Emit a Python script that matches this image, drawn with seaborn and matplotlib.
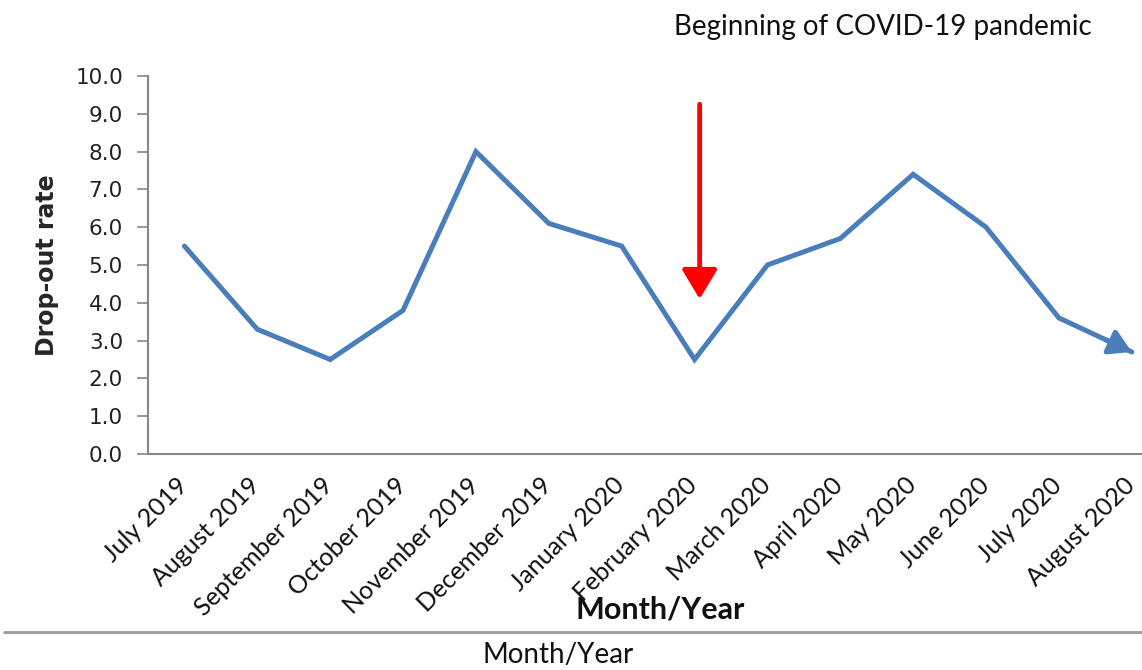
import matplotlib
matplotlib.use("Agg")
import matplotlib.pyplot as plt
import matplotlib.transforms as mtransforms
import seaborn as sns
import pandas as pd
from matplotlib.lines import Line2D

months = ["July 2019", "August 2019", "September 2019", "October 2019",
          "November 2019", "December 2019", "January 2020", "February 2020",
          "March 2020", "April 2020", "May 2020", "June 2020", "July 2020",
          "August 2020"]
dropout = [5.5, 3.3, 2.5, 3.8, 8.0, 6.1, 5.5, 2.5, 5.0, 5.7, 7.4, 6.0, 3.6, 2.7]
yticks = [0, 1, 2, 3, 4, 5, 6, 7, 8, 9, 10]
pandemic_month = "February 2020"
arrow_top, arrow_bottom = 9.25, 4.1

df = pd.DataFrame({"month": months, "rate": dropout, "idx": range(len(months))})

sns.set_theme(style="white")
W, H = 1142, 670
fig = plt.figure(figsize=(W / 100, H / 100), dpi=100)
ax = fig.add_axes([148 / W, 1 - 454 / H, (1142 - 148) / W, (454 - 76) / H])

blue = "#4a7ebb"
sns.lineplot(data=df, x="idx", y="rate", ax=ax, color=blue, linewidth=3.6,
             solid_joinstyle="miter")

# arrowhead at the end of the line
x_end, y_end = df["idx"].iloc[-1], df["rate"].iloc[-1]
x_prev, y_prev = df["idx"].iloc[-2], df["rate"].iloc[-2]
t = 0.35
ax.annotate("", xy=(x_end, y_end),
            xytext=(x_end - t * (x_end - x_prev), y_end - t * (y_end - y_prev)),
            arrowprops=dict(arrowstyle="-|>,head_length=1.1,head_width=0.65",
                            color=blue, lw=3.6, shrinkA=0, shrinkB=0),
            annotation_clip=False)

# red pandemic arrow
px = months.index(pandemic_month) + 0.07
ax.annotate("", xy=(px, arrow_bottom), xytext=(px, arrow_top),
            arrowprops=dict(arrowstyle="-|>,head_length=1.5,head_width=0.9",
                            color="#ff0000", lw=3.5, shrinkA=0, shrinkB=0))

ax.set_xlim(-0.5, 13.14)
ax.set_ylim(0, 10)
ax.set_yticks(yticks)
ax.set_yticklabels([f"{v:.1f}" for v in yticks], fontsize=15.5,
                   family="DejaVu Sans", color="#222222")
ax.set_xticks(df["idx"])
ax.set_xticklabels(months, rotation=45, ha="right", rotation_mode="anchor",
                   fontsize=18, family="Lato", color="#111111")
ax.tick_params(axis="y", which="both", left=True, length=8, width=1.2,
               color="#868686", pad=10)
ax.tick_params(axis="x", bottom=False, pad=8)
shift = mtransforms.ScaledTranslation(-9 / 100, 0, fig.dpi_scale_trans)
for lbl in ax.get_xticklabels():
    lbl.set_transform(lbl.get_transform() + shift)

for s in ["top", "right"]:
    ax.spines[s].set_visible(False)
for s in ["left", "bottom"]:
    ax.spines[s].set_color("#868686")
    ax.spines[s].set_linewidth(1.5)

ax.set_xlabel("")
ax.set_ylabel("Drop-out rate", fontsize=17, fontweight="bold",
              family="DejaVu Sans", labelpad=12)

fig.text(883 / W, 1 - 27 / H, "Beginning of COVID-19 pandemic", ha="center",
         va="center", fontsize=20, family="Lato", color="#111111")
fig.text(660 / W, 1 - 610 / H, "Month/Year", ha="center", va="center",
         fontsize=22, fontweight="bold", family="Lato", color="#111111")
fig.add_artist(Line2D([4 / W, 1.0], [1 - 632 / H, 1 - 632 / H],
                      transform=fig.transFigure, color="#999999", lw=2))
fig.text(558 / W, 1 - 655 / H, "Month/Year", ha="center", va="center",
         fontsize=20, family="Lato", color="#111111")

fig.savefig("out.png", dpi=100, facecolor="white")
